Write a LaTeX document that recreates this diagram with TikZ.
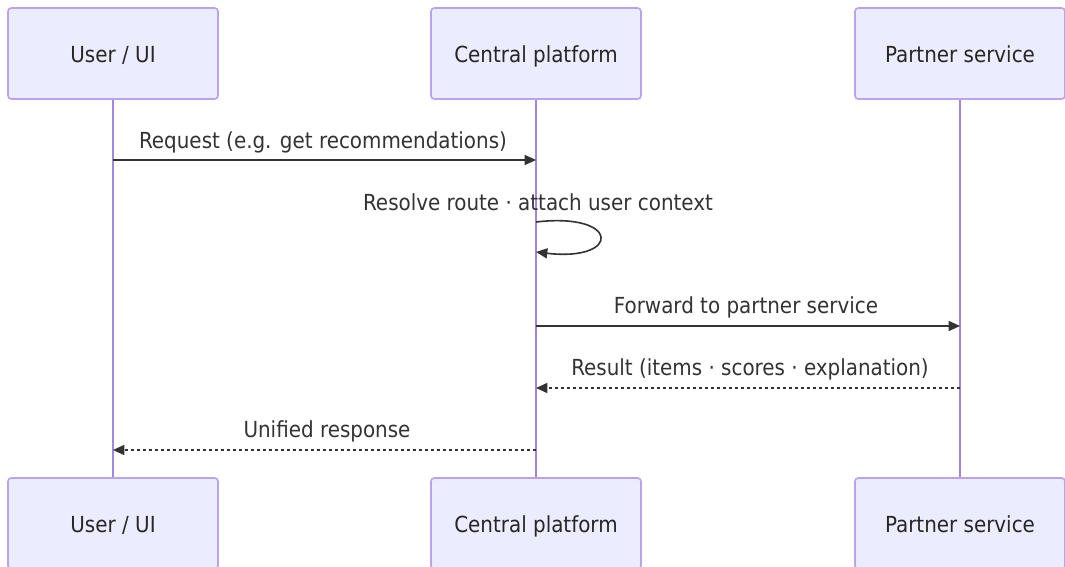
\documentclass[tikz,border=0pt]{standalone}
\usepackage{fontspec}
\setmainfont{DejaVu Sans Condensed}
\usetikzlibrary{arrows.meta}
\definecolor{boxfill}{HTML}{ECECFF}
\definecolor{boxborder}{HTML}{BBA2EE}
\definecolor{lifecol}{HTML}{A585E2}
\definecolor{msgcol}{HTML}{333333}
\begin{document}
\begin{tikzpicture}[x=0.75pt,y=-0.75pt,
  actor/.style={draw=boxborder, fill=boxfill, line width=1.2pt, rounded corners=2.5pt,
    minimum width=157.5pt, minimum height=68.25pt, inner sep=0pt,
    text height=1.6em, text depth=0.22em,
    font=\fontsize{16.6}{19}\selectfont, text=black!85},
  lifeline/.style={draw=lifecol, line width=1.6pt},
  msg/.style={draw=msgcol, line width=1.2pt, -{Triangle[length=8.5pt,width=7.5pt]}},
  reply/.style={msg, dash pattern=on 2.25pt off 2.25pt},
  msglabel/.style={font=\fontsize{16.6}{19}\selectfont, text=msgcol, inner sep=0pt,
    text height=1.35em, text depth=0.22em}]
\useasboundingbox (0,0) rectangle (1065,567);
\clip (0,0) rectangle (1065,567);
\fill[white] (0,0) rectangle (1065,567);
% top actors
\node[actor] (ut) at (113,53.5) {User / UI};
\node[actor] (ct) at (536,53.5) {Central platform};
\node[actor] (pt) at (960,53.5) {Partner service};
% bottom actors
\node[actor] (ub) at (113,523.5) {User / UI};
\node[actor] (cb) at (536,523.5) {Central platform};
\node[actor] (pb) at (960,523.5) {Partner service};
% lifelines
\draw[lifeline] (ut.south) -- (ub.north);
\draw[lifeline] (ct.south) -- (cb.north);
\draw[lifeline] (pt.south) -- (pb.north);
% message anchors
\coordinate (u1) at (113,160); \coordinate (c1) at (536,160);
\coordinate (c2a) at (536,222); \coordinate (c2b) at (536,252);
\coordinate (c3) at (536,326); \coordinate (p3) at (960,326);
\coordinate (p4) at (960,388); \coordinate (c4) at (536,388);
\coordinate (c5) at (536,450); \coordinate (u5) at (113,450);
% messages
\draw[msg] (u1) -- (c1);
\node[msglabel] (l1) at (323,141) {Request (e.g. get recommendations)};
\draw[msg] (c2a) .. controls (621,212) and (621,262) .. (c2b);
\node[msglabel] (l2) at (538,203) {Resolve route · attach user context};
\draw[msg] (c3) -- (p3);
\node[msglabel] (l3) at (746,306) {Forward to partner service};
\draw[reply] (p4) -- (c4);
\node[msglabel] (l4) at (750,368) {Result (items · scores · explanation)};
\draw[reply] (c5) -- (u5);
\node[msglabel] (l5) at (327,430) {Unified response};
\end{tikzpicture}
\end{document}
